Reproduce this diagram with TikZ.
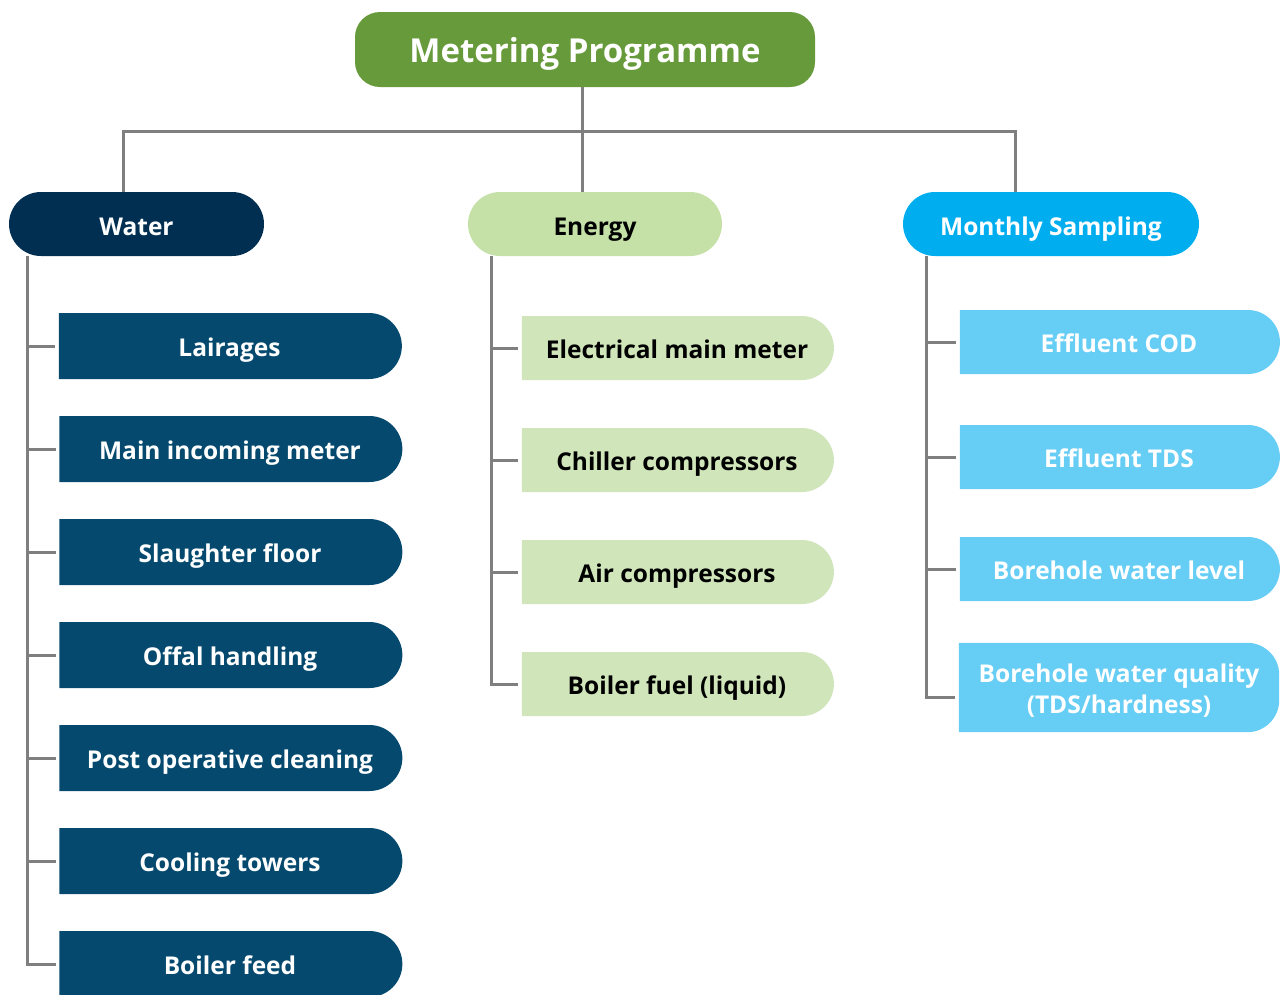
\documentclass[tikz,border=0pt]{standalone}
\usepackage{fontspec}
\setmainfont{Open Sans}
\usetikzlibrary{shapes.misc,backgrounds}
\definecolor{topgreen}{HTML}{679A3A}
\definecolor{navyhead}{HTML}{002F52}
\definecolor{navychild}{HTML}{054A6E}
\definecolor{lghead}{HTML}{C5E1A8}
\definecolor{lgchild}{HTML}{D0E6BA}
\definecolor{bluehead}{HTML}{00AEEF}
\definecolor{bluechild}{HTML}{66CDF5}
\definecolor{linegray}{HTML}{7F7F7F}
\tikzset{
  conn/.style={draw=linegray, line width=3pt},
  tick/.style={conn, shorten >=3.5pt},
  topbox/.style={rectangle, rounded corners=25pt, fill=topgreen, text=white, minimum width=460pt, minimum height=75pt, inner sep=0pt, text height=25pt, text depth=0pt, font=\bfseries\fontsize{33}{38}\selectfont},
  head/.style={rounded rectangle, minimum height=64pt, inner sep=0pt, text height=22pt, text depth=0pt, font=\bfseries\fontsize{24.5}{30}\selectfont},
  child/.style={rounded rectangle, rounded rectangle west arc=none, inner sep=0pt, align=center, text height=21pt, text depth=0pt, font=\bfseries\fontsize{24.5}{31}\selectfont},
  wchild/.style={child, fill=navychild, text=white, minimum width=343pt, minimum height=66pt},
  echild/.style={child, fill=lgchild, text=black, minimum width=312pt, minimum height=64pt},
  mchild/.style={child, fill=bluechild, text=white, minimum width=320pt, minimum height=64pt},
  mtall/.style={rectangle, inner sep=0pt, align=center, text=white, minimum width=320pt, minimum height=89pt, font=\bfseries\fontsize{24.5}{31}\selectfont},
}
\begin{document}
\begin{tikzpicture}[x=1pt,y=-1pt]
\useasboundingbox (0,0) rectangle (1281,994);
% top
\node[topbox] (top) at (585,49.5) {Metering Programme};
% headers
\node[head, fill=navyhead, text=white, minimum width=255pt] (water) at (136.5,224) {Water};
\node[head, fill=lghead, text=black, minimum width=254pt] (energy) at (595,224) {Energy};
\node[head, fill=bluehead, text=white, minimum width=296pt] (monthly) at (1051,224) {Monthly Sampling};
% water children
\node[wchild] (w1) at (229.5,346) {Lairages};
\node[wchild] (w2) at (230,449) {Main incoming meter};
\node[wchild] (w3) at (230,552) {Slaughter floor};
\node[wchild] (w4) at (230,655) {Offal handling};
\node[wchild] (w5) at (230,758) {Post operative cleaning};
\node[wchild] (w6) at (230,861) {Cooling towers};
\node[wchild] (w7) at (230,964) {Boiler feed};
% energy children
\node[echild] (e1) at (677,348) {Electrical main meter};
\node[echild] (e2) at (677,460) {Chiller compressors};
\node[echild] (e3) at (677,572) {Air compressors};
\node[echild] (e4) at (677,684) {Boiler fuel (liquid)};
% monthly children
\node[mchild] (m1) at (1119,342) {Effluent COD};
\node[mchild] (m2) at (1119,457) {Effluent TDS};
\node[mchild] (m3) at (1119,569) {Borehole water level};
\node[mtall] (m4) at (1119,691) {Borehole water quality\\(TDS/hardness)};
\begin{scope}[on background layer]
\fill[bluechild] ([yshift=3.5pt]m4.north west) -- ([xshift=-32pt,yshift=3.5pt]m4.north east)
  arc[start angle=90,end angle=0,radius=32pt] -- ([yshift=35.5pt]m4.south east)
  arc[start angle=0,end angle=-90,radius=32pt] -- ([yshift=3.5pt]m4.south west) -- cycle;
\end{scope}
% bus
\coordinate (bus) at (582,131);
\coordinate (bl) at (123,131);
\coordinate (br) at (1015,131);
\coordinate (ws) at (27,0);
\coordinate (es) at (491,0);
\coordinate (ms) at (926,0);
\draw[conn] (top.south -| bus) -- (energy.north -| bus);
\draw[conn] (water.north -| bl) -- (bl) -- (br) -- (monthly.north -| br);
% spines
\draw[tick] (water.south -| ws) |- (w7.west);
\foreach \n in {w1,w2,w3,w4,w5,w6} \draw[tick] (\n.west -| ws) -- (\n.west);
\draw[tick] (energy.south -| es) |- (e4.west);
\foreach \n in {e1,e2,e3} \draw[tick] (\n.west -| es) -- (\n.west);
\draw[tick] (monthly.south -| ms) |- ([yshift=-6pt]m4.west);
\foreach \n in {m1,m2,m3} \draw[tick] (\n.west -| ms) -- (\n.west);
\end{tikzpicture}
\end{document}
